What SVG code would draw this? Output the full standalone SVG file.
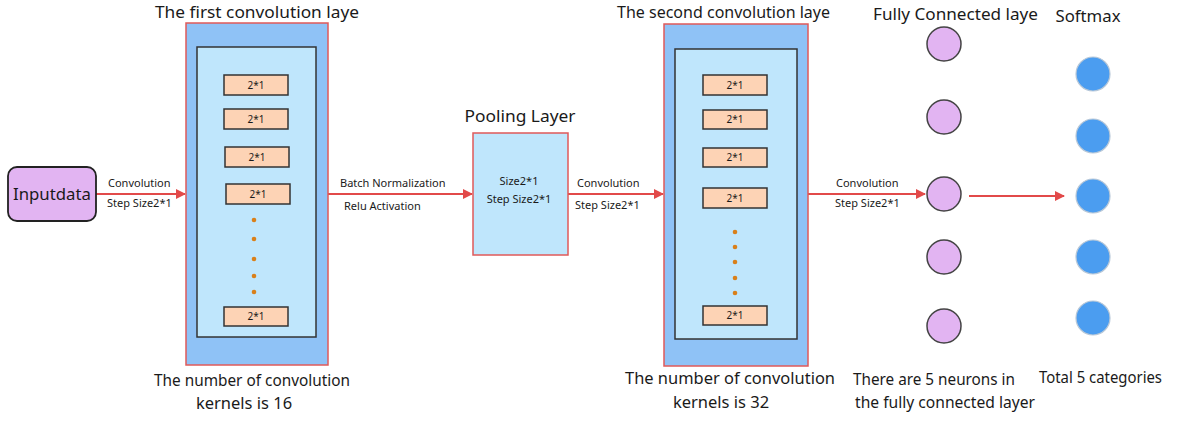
<svg xmlns="http://www.w3.org/2000/svg" width="1180" height="423" viewBox="0 0 1180 423">
<defs>
<style>
text{font-family:"Noto Sans","Liberation Sans",sans-serif;fill:#1a1a1a}
.title{font-size:16.5px}
.lbl{font-size:11px}
.k{font-size:10px;text-anchor:middle}
.outer{fill:#8fc2f6;stroke:#e05a5a;stroke-width:1.5}
.inner{fill:#bfe6fc;stroke:#333;stroke-width:1.5}
.kern{fill:#fdd3b5;stroke:#333;stroke-width:1.5}
.dot{fill:#d9801a}
.fc{fill:#e2b4f2;stroke:#444;stroke-width:1.5}
.sm{fill:#4b9df0;stroke:#b8c8d8;stroke-width:1.2}
.arr{stroke:#e24a4a;stroke-width:2;fill:none;marker-end:url(#ah)}
</style>
<marker id="ah" viewBox="0 0 10 10" refX="9" refY="5" markerWidth="5" markerHeight="5" orient="auto" markerUnits="strokeWidth">
<path d="M0,0 L10,5 L0,10 z" fill="#e24a4a"/>
</marker>
</defs>
<rect width="1180" height="423" fill="#ffffff"/>

<g id="connectors">
<line class="arr" x1="96" y1="194" x2="185" y2="194"/>
<line class="arr" x1="328" y1="194" x2="472" y2="194"/>
<line class="arr" x1="568" y1="194" x2="663" y2="194"/>
<line class="arr" x1="808" y1="194" x2="925" y2="194"/>
<line class="arr" x1="969" y1="196" x2="1064" y2="196"/>
<text class="lbl" x="108" y="187">Convolution</text>
<text class="lbl" x="107" y="207">Step Size2*1</text>
<text class="lbl" x="340" y="187">Batch Normalization</text>
<text class="lbl" x="344" y="210">Relu Activation</text>
<text class="lbl" x="577" y="187">Convolution</text>
<text class="lbl" x="575" y="209">Step Size2*1</text>
<text class="lbl" x="836" y="187">Convolution</text>
<text class="lbl" x="835" y="207">Step Size2*1</text>
</g>

<g id="input">
<rect x="8" y="167" width="88" height="54" rx="9" fill="#e2b4f2" stroke="#222" stroke-width="1.8"/>
<text x="52" y="200" font-size="17" text-anchor="middle" textLength="78" lengthAdjust="spacingAndGlyphs">Inputdata</text>
</g>

<g id="conv1">
<text class="title" x="155" y="18" textLength="204" lengthAdjust="spacingAndGlyphs">The first convolution laye</text>
<rect class="outer" x="186" y="23" width="142" height="342"/>
<rect class="inner" x="197" y="47" width="119" height="290"/>
<rect class="kern" x="224" y="75" width="64" height="20"/><text class="k" x="256" y="89">2*1</text>
<rect class="kern" x="224" y="109" width="64" height="20"/><text class="k" x="256" y="123">2*1</text>
<rect class="kern" x="225" y="147" width="64" height="20"/><text class="k" x="257" y="161">2*1</text>
<rect class="kern" x="226" y="184" width="64" height="20"/><text class="k" x="258" y="198">2*1</text>
<circle class="dot" cx="254" cy="220" r="2.3"/>
<circle class="dot" cx="254" cy="239" r="2.3"/>
<circle class="dot" cx="254" cy="259" r="2.3"/>
<circle class="dot" cx="254" cy="276" r="2.3"/>
<circle class="dot" cx="254" cy="292" r="2.3"/>
<rect class="kern" x="224" y="307" width="64" height="19"/><text class="k" x="256" y="320">2*1</text>
<text class="title" x="252" y="386" text-anchor="middle" textLength="196" lengthAdjust="spacingAndGlyphs">The number of convolution</text>
<text class="title" x="244" y="409" text-anchor="middle">kernels is 16</text>
</g>

<g id="pool">
<text class="title" x="520" y="122" text-anchor="middle" textLength="111" lengthAdjust="spacingAndGlyphs">Pooling Layer</text>
<rect x="473" y="133" width="95" height="122" fill="#bfe6fc" stroke="#e05a5a" stroke-width="1.5"/>
<text class="lbl" x="519" y="185" text-anchor="middle">Size2*1</text>
<text class="lbl" x="519" y="203" text-anchor="middle">Step Size2*1</text>
</g>

<g id="conv2">
<text class="title" x="617" y="18" textLength="213" lengthAdjust="spacingAndGlyphs">The second convolution laye</text>
<rect class="outer" x="664" y="24" width="144" height="342"/>
<rect class="inner" x="675" y="49" width="122" height="290"/>
<rect class="kern" x="703" y="75" width="64" height="20"/><text class="k" x="735" y="89">2*1</text>
<rect class="kern" x="703" y="110" width="64" height="19"/><text class="k" x="735" y="123">2*1</text>
<rect class="kern" x="703" y="148" width="64" height="19"/><text class="k" x="735" y="161">2*1</text>
<rect class="kern" x="703" y="188" width="64" height="20"/><text class="k" x="735" y="202">2*1</text>
<circle class="dot" cx="735" cy="232" r="2.3"/>
<circle class="dot" cx="735" cy="247" r="2.3"/>
<circle class="dot" cx="735" cy="262" r="2.3"/>
<circle class="dot" cx="735" cy="278" r="2.3"/>
<circle class="dot" cx="735" cy="293" r="2.3"/>
<rect class="kern" x="703" y="306" width="64" height="19"/><text class="k" x="735" y="319">2*1</text>
<text class="title" x="730" y="384" text-anchor="middle" textLength="210" lengthAdjust="spacingAndGlyphs">The number of convolution</text>
<text class="title" x="721" y="408" text-anchor="middle">kernels is 32</text>
</g>

<g id="fc">
<text class="title" x="873" y="20" textLength="165" lengthAdjust="spacingAndGlyphs">Fully Connected laye</text>
<circle class="fc" cx="944" cy="44" r="17"/>
<circle class="fc" cx="944" cy="117" r="17"/>
<circle class="fc" cx="944" cy="194" r="17"/>
<circle class="fc" cx="944" cy="257" r="17"/>
<circle class="fc" cx="944" cy="326" r="17"/>
<text class="title" x="853" y="385" textLength="162" lengthAdjust="spacingAndGlyphs">There are 5 neurons in</text>
<text class="title" x="855" y="408" textLength="180" lengthAdjust="spacingAndGlyphs">the fully connected layer</text>
</g>

<g id="softmax">
<text class="title" x="1088" y="22" text-anchor="middle" textLength="65" lengthAdjust="spacingAndGlyphs">Softmax</text>
<circle class="sm" cx="1093" cy="74" r="17"/>
<circle class="sm" cx="1093" cy="136" r="17"/>
<circle class="sm" cx="1093" cy="196" r="17"/>
<circle class="sm" cx="1093" cy="257" r="17"/>
<circle class="sm" cx="1093" cy="318" r="17"/>
<text class="title" x="1039" y="383" textLength="123" lengthAdjust="spacingAndGlyphs">Total 5 categories</text>
</g>
</svg>
